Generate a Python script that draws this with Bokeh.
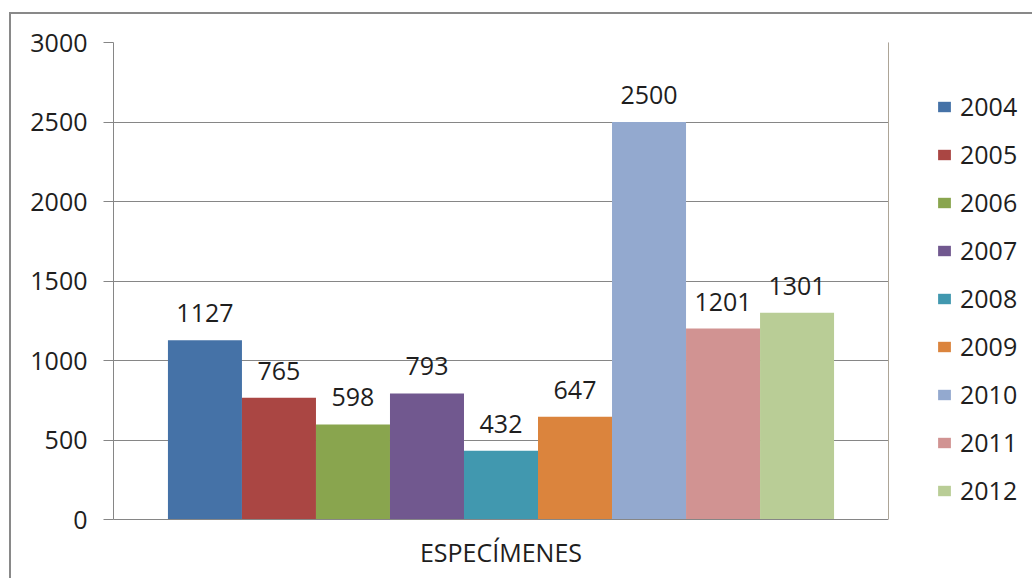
from bokeh.plotting import figure
from bokeh.layouts import row
from bokeh.models import (FactorRange, Range1d, FixedTicker, Legend, LegendItem,
                          ColumnDataSource)
from bokeh.transform import dodge
from bokeh.core.properties import value
from bokeh.embed import file_html
from bokeh.resources import INLINE

category = "ESPECÍMENES"
years = ["2004", "2005", "2006", "2007", "2008", "2009", "2010", "2011", "2012"]
counts = [1127, 765, 598, 793, 432, 647, 2500, 1201, 1301]
colors = ["#4572A7", "#AA4643", "#89A54E", "#71588F", "#4198AF",
          "#DB843D", "#93A9CF", "#D19392", "#B9CD96"]
y_ticks = [0, 500, 1000, 1500, 2000, 2500, 3000]

FONT = "Open Sans"
FS = "25px"
TXT = "#1e1e1e"
GRID = "#868686"
H = 564

p = figure(width=877, height=H,
           x_range=FactorRange(factors=[category], range_padding=0),
           y_range=Range1d(0, 3000),
           output_backend="svg", toolbar_location=None,
           min_border_left=102, min_border_right=0,
           min_border_top=28, min_border_bottom=59)
p.outline_line_color = None
p.background_fill_color = "white"
p.border_fill_color = "white"

bw = 0.0955
for i, (yr, c, v) in enumerate(zip(years, colors, counts)):
    off = (i - 4) * bw
    src = ColumnDataSource(dict(cat=[category], val=[v], lab=[str(v)]))
    p.vbar(x=dodge("cat", off, range=p.x_range), top="val", width=bw,
           source=src, fill_color=c, line_color=None)
    p.text(x=dodge("cat", off, range=p.x_range), y="val", text="lab", source=src,
           text_align="center", text_baseline="middle", y_offset=-27,
           text_font=value(FONT), text_font_size=FS, text_color=TXT)

# y axis
p.yaxis.ticker = FixedTicker(ticks=y_ticks)
p.yaxis.axis_line_color = GRID
p.yaxis.major_tick_line_color = GRID
p.yaxis.major_tick_out = 10
p.yaxis.major_tick_in = 0
p.yaxis.minor_tick_line_color = None
p.yaxis.major_label_standoff = 16
p.yaxis.major_label_text_font = FONT
p.yaxis.major_label_text_font_size = FS
p.yaxis.major_label_text_color = TXT

# x axis
p.xaxis.axis_line_color = GRID
p.xaxis.major_tick_line_color = None
p.xaxis.major_tick_out = 0
p.xaxis.major_tick_in = 0
p.xaxis.minor_tick_line_color = None
p.xaxis.major_label_standoff = 15
p.xaxis.major_label_text_font = FONT
p.xaxis.major_label_text_font_size = FS
p.xaxis.major_label_text_color = TXT

p.xgrid.grid_line_color = None
p.ygrid.grid_line_color = GRID
p.ygrid.grid_line_width = 1

# legend panel (separate figure to the right of the plot area)
q = figure(width=144, height=H, x_range=Range1d(0, 1), y_range=Range1d(0, 1),
           x_axis_location=None, y_axis_location=None,
           output_backend="svg", toolbar_location=None,
           min_border_left=0, min_border_right=0,
           min_border_top=0, min_border_bottom=0)
q.outline_line_color = None
q.xgrid.grid_line_color = None
q.ygrid.grid_line_color = None
items = []
for yr, c, v in zip(years, colors, counts):
    # swatch renderer kept outside the visible range; only its legend glyph shows
    r = q.vbar(x=[-5], top=[v], width=0.1, fill_color=c, line_color=None)
    items.append(LegendItem(label=yr, renderers=[r]))

legend = Legend(items=items, location=(48, 12), padding=0, margin=0,
                spacing=14, glyph_width=16, glyph_height=13, label_standoff=8,
                label_height=34, label_text_font=FONT, label_text_font_size=FS,
                label_text_color=TXT, border_line_color=None,
                background_fill_alpha=0)
q.add_layout(legend, "center")

layout = row(p, q, styles={"border-left": "2px solid #898989",
                           "border-top": "2px solid #898989",
                           "margin-left": "9px", "margin-top": "12px"})

open("out.html", "w").write(file_html(layout, INLINE))
